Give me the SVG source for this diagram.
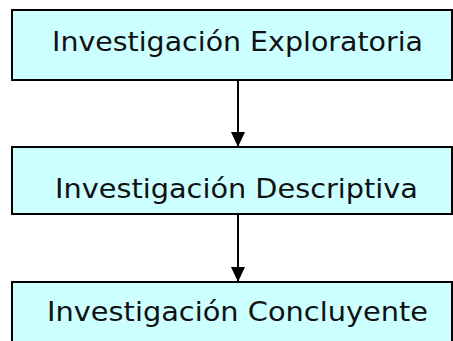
<svg xmlns="http://www.w3.org/2000/svg" width="453" height="341" viewBox="0 0 453 341">
<defs>
<style>
.box{fill:#CCFFFF;stroke:#000;stroke-width:2}
.lbl{font-family:"DejaVu Sans","Liberation Sans",sans-serif;font-size:27px;fill:#111;text-anchor:middle}
.conn{stroke:#000;stroke-width:2;fill:none}
</style>
<marker id="ah" markerWidth="15" markerHeight="14" refX="15" refY="7" orient="auto" markerUnits="userSpaceOnUse" viewBox="0 0 15 14">
<path d="M0,0 L15,7 L0,14 Z" fill="#000"/>
</marker>
</defs>
<g id="n1">
<rect class="box" x="12" y="10" width="440" height="70"/>
<text class="lbl" x="237.5" y="51" textLength="371" lengthAdjust="spacingAndGlyphs">Investigación Exploratoria</text>
</g>
<g id="n2">
<rect class="box" x="12" y="147" width="440" height="67"/>
<text class="lbl" x="236.5" y="198" textLength="363" lengthAdjust="spacingAndGlyphs">Investigación Descriptiva</text>
</g>
<g id="n3">
<rect class="box" x="12" y="282" width="440" height="70"/>
<text class="lbl" x="237.5" y="321" textLength="381" lengthAdjust="spacingAndGlyphs">Investigación Concluyente</text>
</g>
<g id="connectors">
<line class="conn" x1="238" y1="80" x2="238" y2="147" marker-end="url(#ah)"/>
<line class="conn" x1="238" y1="214" x2="238" y2="282" marker-end="url(#ah)"/>
</g>
</svg>
